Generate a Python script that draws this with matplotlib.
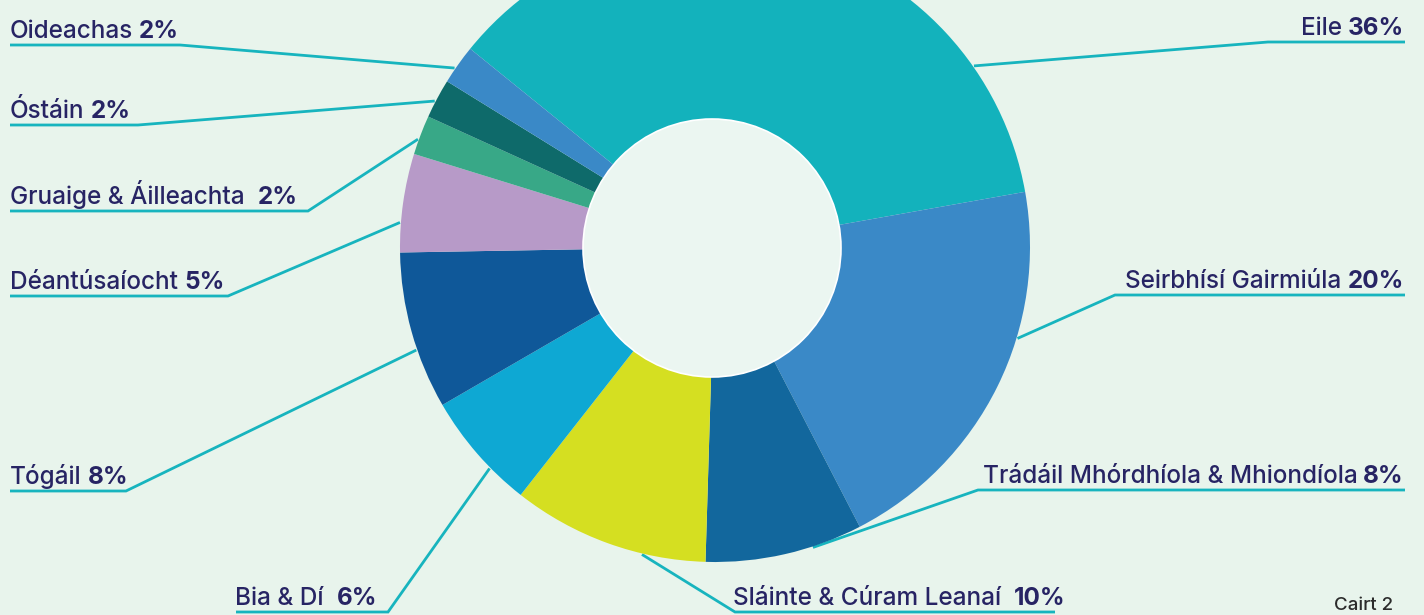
import matplotlib.pyplot as plt
from matplotlib.patches import Circle
import numpy as np

# data: share of firms per sector (%)
sectors = ["Eile", "Seirbhísí Gairmiúla", "Trádáil Mhórdhíola & Mhiondíola",
           "Sláinte & Cúram Leanaí", "Bia & Dí", "Tógáil", "Déantúsaíocht",
           "Gruaige & Áilleachta", "Óstáin", "Oideachas"]
shares = [36, 20, 8, 10, 6, 8, 5, 2, 2, 2]
colours = ["#13b2bc", "#3a89c7", "#12679d", "#d5df21", "#0ea8d3",
           "#0f5899", "#b79ac8", "#38a887", "#0e6a6a", "#3a89c7"]

W, H = 1424, 615
BG = "#e8f4ec"
NAVY = "#272464"
TEAL = "#17b4be"
FONT = "Inter"
FS = 17.5

# label layout in pixels from the top-left corner:
# side, text x, underline y, underline start x, underline knee x,
# spot inside the wedge the leader points to (0..1), gap before the %
layout = [
    ("R", 1404, 42, 1405, 1268, 0.19, 6),
    ("R", 1404, 295, 1405, 1115, 0.63, 6),
    ("R", 1404, 490, 1405, 978, 0.68, 6),
    ("L", 733, 612, 1055, 735, 0.68, 13),
    ("L", 235, 612, 236, 388, 0.66, 13),
    ("L", 10, 491, 10, 126, 0.62, 6),
    ("L", 10, 296, 10, 228, 0.70, 6),
    ("L", 10, 211, 10, 308, 0.62, 13),
    ("L", 10, 125, 10, 138, 0.58, 6),
    ("L", 10, 45, 10, 180, 0.62, 6),
]


def Y(y):
    return H - y


fig = plt.figure(figsize=(W / 100, H / 100), dpi=100, facecolor=BG)
ax = fig.add_axes([0, 0, 1, 1])
ax.set_facecolor(BG)

centre = (715, Y(247))
radius = 315
wedges, _ = ax.pie(shares, colors=colours, startangle=141, counterclock=False,
                   center=centre, radius=radius, wedgeprops=dict(linewidth=0))
for w in wedges:
    w.set_zorder(2)
ax.add_patch(Circle((712, Y(248)), 129, facecolor="#ebf6f1",
                    edgecolor="white", linewidth=1.2, zorder=3))

for name, val, w, lay in zip(sectors, shares, wedges, layout):
    side, tx, uy, ux0, ux1, frac, gap = lay
    ang = np.deg2rad(w.theta1 + frac * (w.theta2 - w.theta1))
    px = centre[0] + (radius + 1) * np.cos(ang)
    py = centre[1] + (radius + 1) * np.sin(ang)
    ax.plot([ux0, ux1, px], [Y(uy), Y(uy), py], color=TEAL, lw=2,
            solid_capstyle="butt", solid_joinstyle="miter", zorder=1)

    base = Y(uy - 7)
    pct = f"{val}%"
    if side == "L":
        t = ax.text(tx, base, name, ha="left", va="baseline", fontsize=FS,
                    fontweight="medium", color=NAVY, family=FONT)
        ax.annotate(pct, xy=(1, 0), xycoords=t, xytext=(gap * 0.72, 0),
                    textcoords="offset points", ha="left", va="bottom",
                    fontsize=FS, fontweight="bold", color=NAVY, family=FONT)
    else:
        t = ax.text(tx, base, pct, ha="right", va="baseline", fontsize=FS,
                    fontweight="bold", color=NAVY, family=FONT)
        ax.annotate(name, xy=(0, 0), xycoords=t, xytext=(-gap * 0.72, 0),
                    textcoords="offset points", ha="right", va="bottom",
                    fontsize=FS, fontweight="medium", color=NAVY, family=FONT)

ax.text(1334, Y(610), "Cairt 2", ha="left", va="baseline", fontsize=13.5,
        fontweight="medium", color="#2b2b2b", family=FONT)

ax.set_xlim(0, W)
ax.set_ylim(0, H)
ax.set_aspect("auto")
ax.axis("off")

fig.savefig("out.png", dpi=100, facecolor=BG)
